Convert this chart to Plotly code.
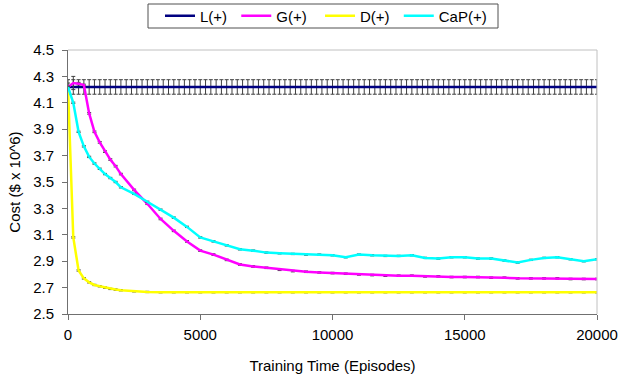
import plotly.graph_objects as go

# ---- data ----
ep_L = [0, 200, 400, 600, 800, 1000, 1200, 1400, 1600, 1800, 2000, 2200, 2400, 2600, 2800,
        3000, 3200, 3400, 3600, 3800, 4000, 4200, 4400, 4600, 4800, 5000, 5200, 5400, 5600,
        5800, 6000, 6200, 6400, 6600, 6800, 7000, 7200, 7400, 7600, 7800, 8000, 8200, 8400,
        8600, 8800, 9000, 9200, 9400, 9600, 9800, 10000, 10200, 10400, 10600, 10800, 11000,
        11200, 11400, 11600, 11800, 12000, 12200, 12400, 12600, 12800, 13000, 13200, 13400,
        13600, 13800, 14000, 14200, 14400, 14600, 14800, 15000, 15200, 15400, 15600, 15800,
        16000, 16200, 16400, 16600, 16800, 17000, 17200, 17400, 17600, 17800, 18000, 18200,
        18400, 18600, 18800, 19000, 19200, 19400, 19600, 19800, 20000]
cost_L = [4.22, 4.22, 4.22, 4.22, 4.22, 4.22, 4.22, 4.22, 4.22, 4.22, 4.22, 4.22, 4.22, 4.22,
          4.22, 4.22, 4.22, 4.22, 4.22, 4.22, 4.22, 4.22, 4.22, 4.22, 4.22, 4.22, 4.22, 4.22,
          4.22, 4.22, 4.22, 4.22, 4.22, 4.22, 4.22, 4.22, 4.22, 4.22, 4.22, 4.22, 4.22, 4.22,
          4.22, 4.22, 4.22, 4.22, 4.22, 4.22, 4.22, 4.22, 4.22, 4.22, 4.22, 4.22, 4.22, 4.22,
          4.22, 4.22, 4.22, 4.22, 4.22, 4.22, 4.22, 4.22, 4.22, 4.22, 4.22, 4.22, 4.22, 4.22,
          4.22, 4.22, 4.22, 4.22, 4.22, 4.22, 4.22, 4.22, 4.22, 4.22, 4.22, 4.22, 4.22, 4.22,
          4.22, 4.22, 4.22, 4.22, 4.22, 4.22, 4.22, 4.22, 4.22, 4.22, 4.22, 4.22, 4.22, 4.22,
          4.22, 4.22, 4.22]
err_L = 0.055

ep = [0, 200, 400, 600, 800, 1000, 1200, 1400, 1600, 1800, 2000, 2500, 3000, 3500, 4000,
      4500, 5000, 5500, 6000, 6500, 7000, 7500, 8000, 8500, 9000, 9500, 10000, 10500, 11000,
      11500, 12000, 12500, 13000, 13500, 14000, 14500, 15000, 15500, 16000, 16500, 17000,
      17500, 18000, 18500, 19000, 19500, 20000]

cost_G = [4.22, 4.25, 4.245, 4.235, 4.02, 3.88, 3.80, 3.73, 3.67, 3.62, 3.56, 3.44, 3.335,
          3.22, 3.13, 3.05, 2.98, 2.95, 2.91, 2.875, 2.86, 2.85, 2.835, 2.825, 2.82, 2.815,
          2.81, 2.805, 2.80, 2.795, 2.79, 2.79, 2.79, 2.785, 2.785, 2.78, 2.78, 2.78, 2.775,
          2.775, 2.77, 2.77, 2.77, 2.77, 2.765, 2.765, 2.765]
err_G = [0.03, 0.05, 0.01, 0.006, 0.006, 0.006, 0.006, 0.006, 0.006, 0.006, 0.006, 0.006,
         0.006, 0.006, 0.006, 0.006, 0.006, 0.006, 0.006, 0.006, 0.006, 0.006, 0.006, 0.006,
         0.006, 0.006, 0.006, 0.006, 0.006, 0.006, 0.006, 0.006, 0.006, 0.006, 0.006, 0.006,
         0.006, 0.006, 0.006, 0.006, 0.006, 0.006, 0.006, 0.006, 0.006, 0.006, 0.006]

cost_D = [4.22, 3.08, 2.83, 2.77, 2.74, 2.72, 2.71, 2.70, 2.69, 2.685, 2.68, 2.672, 2.667,
          2.665, 2.665, 2.665, 2.665, 2.665, 2.665, 2.665, 2.665, 2.665, 2.665, 2.665, 2.665,
          2.665, 2.665, 2.665, 2.665, 2.665, 2.665, 2.665, 2.665, 2.665, 2.665, 2.665, 2.665,
          2.665, 2.665, 2.665, 2.665, 2.665, 2.665, 2.665, 2.665, 2.665, 2.665]

cost_CaP = [4.22, 4.10, 3.88, 3.77, 3.69, 3.64, 3.60, 3.56, 3.53, 3.50, 3.46, 3.41, 3.35,
            3.29, 3.23, 3.16, 3.08, 3.05, 3.02, 2.99, 2.98, 2.965, 2.96, 2.955, 2.95, 2.95,
            2.945, 2.93, 2.95, 2.945, 2.94, 2.94, 2.945, 2.925, 2.92, 2.93, 2.93, 2.92, 2.92,
            2.905, 2.89, 2.91, 2.925, 2.93, 2.915, 2.90, 2.915]

err_small = 0.005

series_names = ["L(+)", "G(+)", "D(+)", "CaP(+)"]
x_ticks = [0, 5000, 10000, 15000, 20000]
y_ticks = [2.5, 2.7, 2.9, 3.1, 3.3, 3.5, 3.7, 3.9, 4.1, 4.3, 4.5]

FONT = "Liberation Sans, Arial, sans-serif"
FS = 15
ERRC = "#404040"
NB = "\u00a0"
# trailing no-break spaces only widen the legend entries to the reference spacing
legend_pad = [NB, NB * 2, NB, ""]

fig = go.Figure()
fig.add_trace(go.Scatter(x=ep_L, y=cost_L, mode="lines", name=series_names[0] + legend_pad[0],
                         line=dict(color="#000080", width=2.5),
                         error_y=dict(type="constant", value=err_L, color=ERRC,
                                      thickness=1, width=2)))
fig.add_trace(go.Scatter(x=ep, y=cost_G, mode="lines", name=series_names[1] + legend_pad[1],
                         line=dict(color="#FF00FF", width=2.5),
                         error_y=dict(type="data", array=err_G, color=ERRC,
                                      thickness=1, width=2)))
fig.add_trace(go.Scatter(x=ep, y=cost_D, mode="lines", name=series_names[2] + legend_pad[2],
                         line=dict(color="#FFFF00", width=2.5),
                         error_y=dict(type="constant", value=err_small, color=ERRC,
                                      thickness=1, width=2)))
fig.add_trace(go.Scatter(x=ep, y=cost_CaP, mode="lines", name=series_names[3] + legend_pad[3],
                         line=dict(color="#00FFFF", width=2.5),
                         error_y=dict(type="constant", value=err_small, color=ERRC,
                                      thickness=1, width=2)))

fig.update_layout(
    width=620, height=377,
    margin=dict(l=68, r=23, t=50, b=63),
    paper_bgcolor="white", plot_bgcolor="white",
    font=dict(family=FONT, size=FS, color="black"),
    showlegend=True,
    legend=dict(orientation="h", xref="container", yref="container",
                x=160 / 620, xanchor="left", y=1 - 16 / 377, yanchor="middle",
                borderwidth=0, bgcolor="rgba(0,0,0,0)",
                font=dict(family=FONT, size=FS),
                itemwidth=30, traceorder="normal"),
    xaxis=dict(range=[0, 20000], tickvals=x_ticks, ticktext=[str(v) for v in x_ticks],
               showgrid=False, zeroline=False, showline=True, linecolor="#707070",
               linewidth=1, ticks="outside", ticklen=5, tickcolor="#707070",
               tickfont=dict(family=FONT, size=FS), automargin=False,
               ticklabelstandoff=2,
               title=dict(text="Training Time (Episodes)", font=dict(family=FONT, size=FS),
                          standoff=18)),
    yaxis=dict(range=[2.5, 4.5], tickvals=y_ticks, ticktext=["%.1f" % v for v in y_ticks],
               showgrid=False, zeroline=False, showline=True, linecolor="#707070",
               linewidth=1, ticks="outside", ticklen=5, tickcolor="#707070",
               tickfont=dict(family=FONT, size=FS), automargin=False,
               ticklabelstandoff=5,
               title=dict(text="Cost ($ x 10^6)", font=dict(family=FONT, size=FS),
                          standoff=8)),
    shapes=[
        dict(type="line", xref="paper", yref="paper", x0=0, x1=1, y0=1, y1=1,
             line=dict(color="#c0c0c0", width=1)),
        dict(type="line", xref="paper", yref="paper", x0=1, x1=1, y0=0, y1=1,
             line=dict(color="#c0c0c0", width=1)),
        # legend frame
        dict(type="rect", xref="paper", yref="paper",
             x0=(148 - 68) / 529, x1=(498 - 68) / 529,
             y0=(314 - 28) / 264, y1=(314 - 4) / 264,
             line=dict(color="#505050", width=1), fillcolor="rgba(0,0,0,0)"),
    ],
)

fig.write_html("out.html")
